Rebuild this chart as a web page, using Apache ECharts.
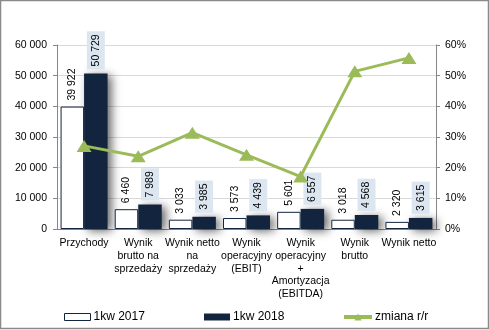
<!DOCTYPE html>
<html>
<head>
<meta charset="utf-8">
<script src="https://cdn.jsdelivr.net/npm/echarts@6/dist/echarts.min.js"></script>
<style>
  html, body { margin: 0; padding: 0; background: #fff; }
  #chart { width: 489px; height: 330px; }
</style>
</head>
<body>
<div id="chart"></div>
<script>
// Categories of financial results
const categories = [
  'Przychody',
  'Wynik\nbrutto na\nsprzedaży',
  'Wynik netto\nna\nsprzedaży',
  'Wynik\noperacyjny\n(EBIT)',
  'Wynik\noperacyjny\n+\nAmortyzacja\n(EBITDA)',
  'Wynik\nbrutto',
  'Wynik netto'
];
// Q1 2017 and Q1 2018 values
const q2017 = [39922, 6460, 3033, 3573, 5601, 3018, 2320];
const q2018 = [50729, 7989, 3985, 4439, 6557, 4568, 3615];
// Year-over-year change, percent
const yoy = [27.1, 23.7, 31.4, 24.2, 17.1, 51.4, 55.8];
// Axis ticks
const leftTicks = [0, 10000, 20000, 30000, 40000, 50000, 60000];
const rightTicks = [0, 10, 20, 30, 40, 50, 60];

const FONT = 'Liberation Sans';
const fmt = v => String(Math.round(v)).replace(/\B(?=(\d{3})+(?!\d))/g, ' ');
const DARK = '#13243f';
const GREEN = '#9bbb59';

const chart = echarts.init(document.getElementById('chart'), null, { renderer: 'canvas' });

const legendBase = {
  top: 310,
  padding: 0,
  itemWidth: 26,
  itemHeight: 7,
  textStyle: { fontFamily: FONT, fontSize: 12, color: '#000', padding: [0, 0, 0, -2], lineHeight: 14 },
  selectedMode: false
};

chart.setOption({
  animation: false,
  backgroundColor: '#fff',
  textStyle: { fontFamily: FONT },
  graphic: [{
    type: 'rect',
    shape: { x: 0.5, y: 0.5, width: 488, height: 328 },
    style: { fill: 'none', stroke: '#8a8a8a', lineWidth: 1.5 },
    silent: true
  }],
  legend: [
    Object.assign({}, legendBase, {
      left: 64,
      data: [{ name: '1kw 2017', icon: 'rect', itemStyle: { borderWidth: 1 } }]
    }),
    Object.assign({}, legendBase, { left: 204, data: [{ name: '1kw 2018', icon: 'rect' }] }),
    Object.assign({}, legendBase, {
      left: 342, itemWidth: 28, itemHeight: 9,
      data: ['zmiana r/r'],
      lineStyle: { width: 4 }
    })
  ],
  grid: { left: 57, right: 53, top: 45, bottom: 101, containLabel: false },
  xAxis: {
    type: 'category',
    data: categories,
    axisLine: { lineStyle: { color: '#868686' } },
    axisTick: { show: false },
    axisLabel: {
      interval: 0, margin: 8, fontSize: 10.5, color: '#000', lineHeight: 12.7,
      fontFamily: FONT
    }
  },
  yAxis: [{
    type: 'value', min: 0, max: 60000, interval: 10000,
    axisLine: { show: true, lineStyle: { color: '#868686' } },
    axisTick: { show: true, length: 4, lineStyle: { color: '#868686' } },
    axisLabel: { formatter: v => fmt(v), fontSize: 10.5, color: '#000', margin: 10, fontFamily: FONT },
    splitLine: { lineStyle: { color: '#d9d9d9' } }
  }, {
    type: 'value', min: 0, max: 60, interval: 10,
    axisLine: { show: true, lineStyle: { color: '#868686' } },
    axisTick: { show: true, length: 4, lineStyle: { color: '#868686' } },
    axisLabel: { formatter: v => v + '%', fontSize: 10.5, color: '#000', margin: 9, fontFamily: FONT },
    splitLine: { show: false }
  }],
  series: [{
    name: '1kw 2017',
    type: 'bar',
    data: q2017,
    barWidth: 23.5,
    barGap: '0%',
    itemStyle: { color: '#fff', borderColor: DARK, borderWidth: 1 },
    label: {
      show: true, position: 'top', rotate: 90, distance: 6,
      align: 'left', verticalAlign: 'middle',
      formatter: p => fmt(p.value), fontSize: 10.5, color: '#000', fontFamily: FONT
    },
    z: 3
  }, {
    name: '1kw 2018',
    type: 'bar',
    data: q2018,
    barWidth: 23.5,
    itemStyle: {
      color: DARK, shadowColor: 'rgba(0,0,0,0.6)', shadowBlur: 10,
      shadowOffsetX: 4, shadowOffsetY: 2
    },
    label: {
      show: true, position: 'top', rotate: 90, distance: 4,
      align: 'left', verticalAlign: 'middle',
      formatter: p => fmt(p.value), fontSize: 10.5, color: '#000', fontFamily: FONT,
      backgroundColor: '#dce6f1', padding: [4, 3, 3, 3]
    },
    z: 2
  }, {
    name: 'zmiana r/r',
    type: 'line',
    yAxisIndex: 1,
    data: yoy,
    lineStyle: { color: GREEN, width: 3 },
    itemStyle: { color: GREEN },
    symbol: 'triangle',
    symbolSize: [15, 12],
    z: 5
  }]
});
</script>
</body>
</html>
